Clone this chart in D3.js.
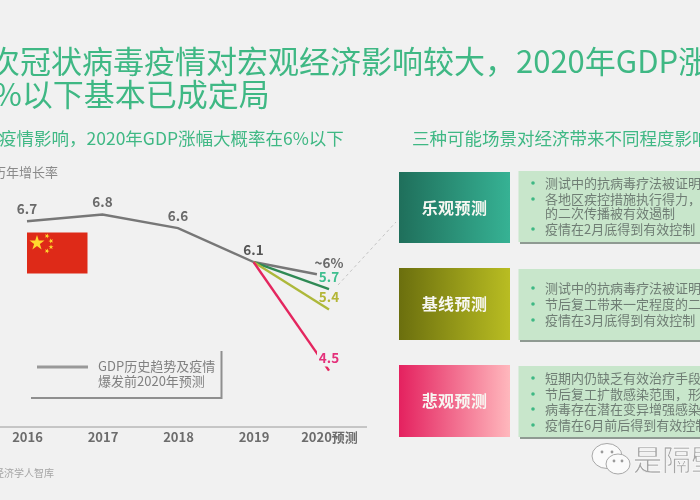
<!DOCTYPE html>
<html><head><meta charset="utf-8">
<script src="https://cdn.jsdelivr.net/npm/d3@7"></script>
<style>
html,body{margin:0;padding:0;background:#f1f1f1;overflow:hidden}
svg{display:block;filter:blur(0.35px)}
text{font-family:"Noto Sans CJK SC","Noto Sans",sans-serif}
</style></head><body>
<script>
const years=[2016,2017,2018,2019,2020];
const yearLabels=["2016","2017","2018","2019","2020预测"];
const history=[6.7,6.8,6.6,6.1];
const greyYears=[2019,2019.84];
const greyValues=[6.1,5.92];
const optimistic=[6.1,5.7];
const baseline=[6.1,5.4];
const pessimistic=[6.1,4.5];
const titleLines=["次冠状病毒疫情对宏观经济影响较大，2020年GDP涨","6%以下基本已成定局"];
const subLeft="疫情影响，2020年GDP涨幅大概率在6%以下";
const subRight="三种可能场景对经济带来不同程度影响";
const scenarioNames=["乐观预测","基线预测","悲观预测"];
const scenarioNotes=[
 ["测试中的抗病毒疗法被证明","各地区疾控措施执行得力，","的二次传播被有效遏制","疫情在2月底得到有效控制"],
 ["测试中的抗病毒疗法被证明","节后复工带来一定程度的二","疫情在3月底得到有效控制"],
 ["短期内仍缺乏有效治疗手段","节后复工扩散感染范围，形","病毒存在潜在变异增强感染","疫情在6月前后得到有效控制"]
];
const bulletFlags=[[1,1,0,1],[1,1,1],[1,1,1,1]];
const legendLines=["GDP历史趋势及疫情","爆发前2020年预测"];

const svg=d3.select("body").append("svg").attr("width",700).attr("height",500);
const defs=svg.append("defs");
const bg="#f1f1f1", green="#3fb884";
svg.append("rect").attr("width",700).attr("height",500).attr("fill",bg);

const x=d3.scaleLinear().domain([2016,2020]).range([27,329]);
const y=d3.scaleLinear().domain([4.5,6.8]).range([370.6,214.5]);

// titles
svg.selectAll(".t").data(titleLines).join("text")
 .attr("x",(d,i)=>i?-24:-11).attr("y",(d,i)=>i?106:73)
 .attr("font-size",31).attr("fill",green).text(d=>d);
[[subLeft,-1],[subRight,412]].forEach(([s,px])=>svg.append("text").attr("x",px).attr("y",145)
 .attr("font-size",17.5).attr("fill",green).text(s));

// y caption + source
svg.append("text").attr("x",-7).attr("y",177).attr("font-size",13).attr("fill","#8a8a8a").text("历年增长率");
svg.append("text").attr("x",-6).attr("y",477).attr("font-size",10).attr("fill","#a5a5a5").text("经济学人智库");

// flag
svg.append("rect").attr("x",27).attr("y",232.5).attr("width",60.5).attr("height",41).attr("fill","#de2a18");
const star=d3.symbol().type(d3.symbolStar);
[[37,243,70,0],[47,236,8,20],[51,241,8,-20],[51,247,8,0],[47,251,8,20]].forEach(s=>
 svg.append("path").attr("d",star.size(s[2])()).attr("fill","#ffd92e")
  .attr("transform",`translate(${s[0]},${s[1]}) rotate(${s[3]})`));

// axis
const axis=d3.axisBottom(x).tickValues(years).tickSize(0).tickPadding(6)
 .tickFormat((d,i)=>yearLabels[i]);
const ax=svg.append("g").attr("transform","translate(0,427)").call(axis);
ax.select(".domain").attr("d","M0,0H367").attr("stroke","#9a9a9a").attr("stroke-width",1);
ax.selectAll("text").attr("font-size",13).attr("font-weight",700).attr("fill","#6c6c6c")
 .style("font-family",'"Noto Sans CJK SC",sans-serif');

// lines
const line=d3.line().x(d=>x(d[0])).y(d=>y(d[1]));
const series=[
 [d3.zip(greyYears,greyValues),"#777777",2.4],
 [d3.zip([2019,2020],optimistic),"#2f8a55",2.4],
 [d3.zip([2019,2020],baseline),"#adb83a",2.4],
 [d3.zip([2019,2020],pessimistic),"#e4265f",2.4],
 [d3.zip(years.slice(0,4),history),"#777777",2.4]
];
series.forEach(s=>svg.append("path").attr("d",line(s[0])).attr("fill","none")
 .attr("stroke",s[1]).attr("stroke-width",s[2]));
svg.append("rect").attr("x",317).attr("y",349).attr("width",30).attr("height",17.5).attr("fill",bg);

// value labels
const labels=[
 ["6.7",x(2016),214,"#6a6a6a",700],["6.8",x(2017),207,"#6a6a6a",700],["6.6",x(2018),221,"#6a6a6a",700],
 ["6.1",x(2019),255,"#555555",700],["~6%",x(2020),268,"#6a6a6a",700],["5.7",x(2020),282,"#3fbf8f",700],
 ["5.4",x(2020),302,"#b4b637",700],["4.5",x(2020),363,"#e4307a",700]];
svg.selectAll(".vl").data(labels).join("text").attr("text-anchor","middle")
 .attr("x",d=>d[1]).attr("y",d=>d[2]).attr("font-size",13.5).attr("font-weight",d=>d[4])
 .attr("fill",d=>d[3]).text(d=>d[0]);

// connector
svg.append("line").attr("x1",338).attr("y1",285).attr("x2",396).attr("y2",222)
 .attr("stroke","#c4c4c4").attr("stroke-width",1).attr("stroke-dasharray","3 3");

// legend
svg.append("rect").attr("x",31).attr("y",351).attr("width",191.5).attr("height",48).attr("fill","#8f8f8f");
svg.append("rect").attr("x",28).attr("y",347).attr("width",192.5).attr("height",50).attr("fill",bg);
svg.append("line").attr("x1",37).attr("x2",88).attr("y1",367).attr("y2",367).attr("stroke","#999").attr("stroke-width",3);
legendLines.forEach((s,i)=>svg.append("text").attr("x",98).attr("y",371+i*15).attr("font-size",13).attr("fill","#808080").text(s));

// scenario boxes
const stops=[["#1f6f5b","#36b294"],["#6b6f0e","#b9bd22"],["#e4215f","#ffb8bd"]];
const boxY=[172,268,365], noteY=[171,269,366], boxH=[71,72,72];
const firstLine=[[183,199,213,229],[288,304,320],[378,394,409,425]];
scenarioNames.forEach((name,i)=>{
 const g=defs.append("linearGradient").attr("id","g"+i);
 g.append("stop").attr("offset",0).attr("stop-color",stops[i][0]);
 g.append("stop").attr("offset",1).attr("stop-color",stops[i][1]);
 svg.append("rect").attr("x",399).attr("y",boxY[i]).attr("width",111).attr("height",boxH[i]).attr("fill",`url(#g${i})`);
 svg.append("text").attr("x",454.5).attr("y",boxY[i]+41.5).attr("text-anchor","middle")
  .attr("font-size",16).attr("letter-spacing",0.4).attr("font-weight",700).attr("fill","#f7f7f2").text(name);
 svg.append("rect").attr("x",520).attr("y",noteY[i]+3).attr("width",190).attr("height",70).attr("fill","#8f9a92");
 svg.append("rect").attr("x",518.5).attr("y",noteY[i]).attr("width",190).attr("height",71).attr("fill","#c8e6cb");
 scenarioNotes[i].forEach((s,j)=>{
  if(bulletFlags[i][j]) svg.append("circle").attr("cx",533).attr("cy",firstLine[i][j]).attr("r",1.8).attr("fill","#3fb884");
  svg.append("text").attr("x",545).attr("y",firstLine[i][j]+4.7).attr("font-size",13).attr("fill","#6f7d74").text(s);
 });
});

// watermark
const wm=svg.append("g");
[[607,456,15,12.5],[618,464,12,10]].forEach(e=>wm.append("ellipse").attr("cx",e[0]).attr("cy",e[1])
 .attr("rx",e[2]).attr("ry",e[3]).attr("fill","#fafafa").attr("stroke","#a8a8a8").attr("stroke-width",1));
[[602,452],[612,452],[614,461],[622,461]].forEach(p=>wm.append("circle").attr("cx",p[0]).attr("cy",p[1]).attr("r",1.4).attr("fill","#9a9a9a"));
wm.append("text").attr("x",633).attr("y",471).attr("font-size",29).attr("fill","#a5a5a5")
 .attr("stroke","#fff").attr("stroke-width",0.6).text("是隔壁");
</script>
</body></html>
